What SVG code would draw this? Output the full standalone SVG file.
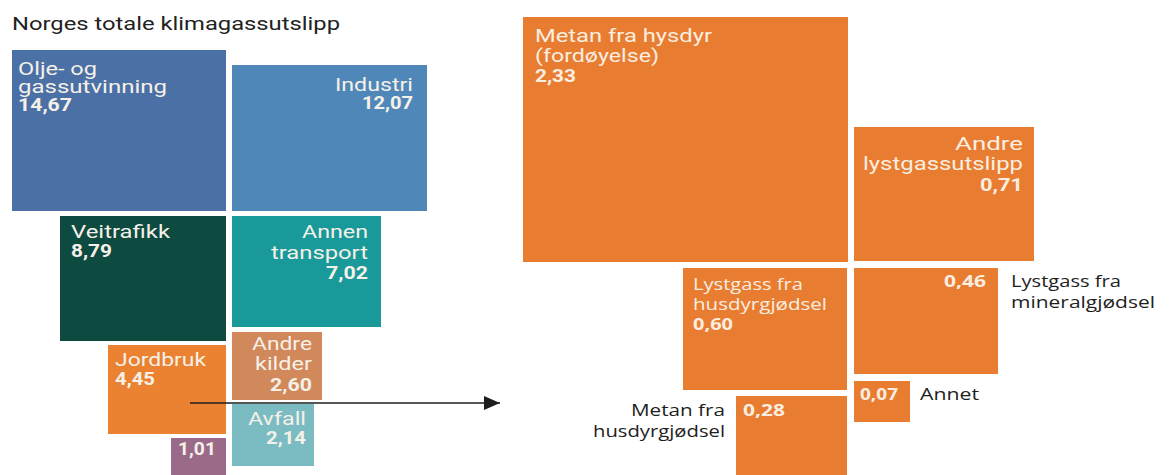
<svg xmlns="http://www.w3.org/2000/svg" width="1171" height="475" viewBox="0 0 1171 475">
<style>
text{lengthAdjust:spacingAndGlyphs}
.t{font-family:Roboto,"Liberation Sans",sans-serif;font-size:17.5px;fill:#f6f1e8}
.b{font-weight:bold}
.r{text-anchor:end}
.m{font-family:"Open Sans","Noto Sans","Liberation Sans",sans-serif;font-size:15.5px}
.w{fill:#fbeee0}
.k{fill:#1e1e1e}
.or{fill:#e87d32}
</style>
<defs>
<marker id="ah" markerWidth="16" markerHeight="14" refX="16" refY="7" orient="auto" markerUnits="userSpaceOnUse">
<path d="M0,0 L16,7 L0,14 Z" fill="#1e1e1e"/>
</marker>
</defs>
<rect width="1171" height="475" fill="#ffffff"/>
<text x="12" y="30" font-family="Roboto,'Liberation Sans',sans-serif" font-size="18" fill="#222" textLength="328" lengthAdjust="spacingAndGlyphs">Norges totale klimagassutslipp</text>

<g id="olje">
<rect x="12" y="50" width="214" height="161" fill="#4a70a6"/>
<text class="t" x="18" y="75" textLength="79" lengthAdjust="spacingAndGlyphs">Olje- og</text>
<text class="t" x="18" y="93" textLength="149" lengthAdjust="spacingAndGlyphs">gassutvinning</text>
<text class="t b" x="18" y="111" textLength="54" lengthAdjust="spacingAndGlyphs">14,67</text>
</g>
<g id="industri">
<rect x="232" y="65" width="195" height="146" fill="#5087b9"/>
<text class="t r" x="413" y="91" textLength="78" lengthAdjust="spacingAndGlyphs">Industri</text>
<text class="t b r" x="413" y="109" textLength="51" lengthAdjust="spacingAndGlyphs">12,07</text>
</g>
<g id="veitrafikk">
<rect x="60" y="216" width="166" height="125" fill="#0d4a40"/>
<text class="t" x="71" y="238" textLength="99" lengthAdjust="spacingAndGlyphs">Veitrafikk</text>
<text class="t b" x="71" y="257" textLength="41" lengthAdjust="spacingAndGlyphs">8,79</text>
</g>
<g id="annen-transport">
<rect x="232" y="216" width="149" height="111" fill="#19999a"/>
<text class="t r" x="368" y="238" textLength="66" lengthAdjust="spacingAndGlyphs">Annen</text>
<text class="t r" x="368" y="259" textLength="97" lengthAdjust="spacingAndGlyphs">transport</text>
<text class="t b r" x="368" y="279" textLength="42" lengthAdjust="spacingAndGlyphs">7,02</text>
</g>
<g id="jordbruk">
<rect x="108" y="345" width="118" height="89" fill="#ea8232"/>
<text class="t" x="115" y="366" textLength="91" lengthAdjust="spacingAndGlyphs">Jordbruk</text>
<text class="t b" x="115" y="385" textLength="40" lengthAdjust="spacingAndGlyphs">4,45</text>
</g>
<g id="andre-kilder">
<rect x="232" y="332" width="90" height="68" fill="#d1885a"/>
<text class="t r" x="312" y="350" textLength="60" lengthAdjust="spacingAndGlyphs">Andre</text>
<text class="t r" x="312" y="370" textLength="57" lengthAdjust="spacingAndGlyphs">kilder</text>
<text class="t b r" x="312" y="391" textLength="42" lengthAdjust="spacingAndGlyphs">2,60</text>
</g>
<g id="avfall">
<rect x="232" y="404" width="82" height="62" fill="#7bbcc3"/>
<text class="t r" x="306" y="425" textLength="58" lengthAdjust="spacingAndGlyphs">Avfall</text>
<text class="t b r" x="306" y="444" textLength="40" lengthAdjust="spacingAndGlyphs">2,14</text>
</g>
<g id="annet-left">
<rect x="171" y="438" width="55" height="37" fill="#9a6a88"/>
<text class="t b" x="178" y="455" textLength="38" lengthAdjust="spacingAndGlyphs">1,01</text>
</g>

<g id="metan-fordoyelse">
<rect class="or" x="523" y="17" width="325" height="245"/>
<text class="t w" x="535" y="42" textLength="177" lengthAdjust="spacingAndGlyphs">Metan fra hysdyr</text>
<text class="t w" x="535" y="62" textLength="124" lengthAdjust="spacingAndGlyphs">(fordøyelse)</text>
<text class="t b w" x="535" y="82" textLength="41" lengthAdjust="spacingAndGlyphs">2,33</text>
</g>
<g id="andre-lystgass">
<rect class="or" x="854" y="127" width="180" height="134"/>
<text class="t w r" x="1023" y="150" textLength="68" lengthAdjust="spacingAndGlyphs">Andre</text>
<text class="t w r" x="1023" y="170" textLength="160" lengthAdjust="spacingAndGlyphs">lystgassutslipp</text>
<text class="t b w r" x="1023" y="191" textLength="43" lengthAdjust="spacingAndGlyphs">0,71</text>
</g>
<g id="lystgass-husdyr">
<rect class="or" x="683" y="268" width="164" height="122"/>
<text class="m w" x="693" y="290" textLength="110" lengthAdjust="spacingAndGlyphs">Lystgass fra</text>
<text class="m w" x="693" y="310" textLength="134" lengthAdjust="spacingAndGlyphs">husdyrgjødsel</text>
<text class="m b w" x="693" y="330" textLength="40" lengthAdjust="spacingAndGlyphs">0,60</text>
</g>
<g id="lystgass-mineral">
<rect class="or" x="854" y="268" width="144" height="106"/>
<text class="m b w r" x="986" y="287" textLength="42" lengthAdjust="spacingAndGlyphs">0,46</text>
<text class="m k" x="1011" y="287" textLength="110" lengthAdjust="spacingAndGlyphs">Lystgass fra</text>
<text class="m k" x="1011" y="308" textLength="144" lengthAdjust="spacingAndGlyphs">mineralgjødsel</text>
</g>
<g id="annet">
<rect class="or" x="854" y="381" width="56" height="41"/>
<text class="m b w" x="860" y="400" textLength="38" lengthAdjust="spacingAndGlyphs">0,07</text>
<text class="m k" x="920" y="400" textLength="59" lengthAdjust="spacingAndGlyphs">Annet</text>
</g>
<g id="metan-husdyr">
<rect class="or" x="736" y="396" width="111" height="79"/>
<text class="m b w" x="743" y="416" textLength="42" lengthAdjust="spacingAndGlyphs">0,28</text>
<text class="m k r" x="725" y="416" textLength="94" lengthAdjust="spacingAndGlyphs">Metan fra</text>
<text class="m k r" x="725" y="437" textLength="132" lengthAdjust="spacingAndGlyphs">husdyrgjødsel</text>
</g>

<g id="connectors">
<line x1="190" y1="403" x2="500" y2="403" stroke="#1e1e1e" stroke-width="1.6" marker-end="url(#ah)"/>
</g>
</svg>
